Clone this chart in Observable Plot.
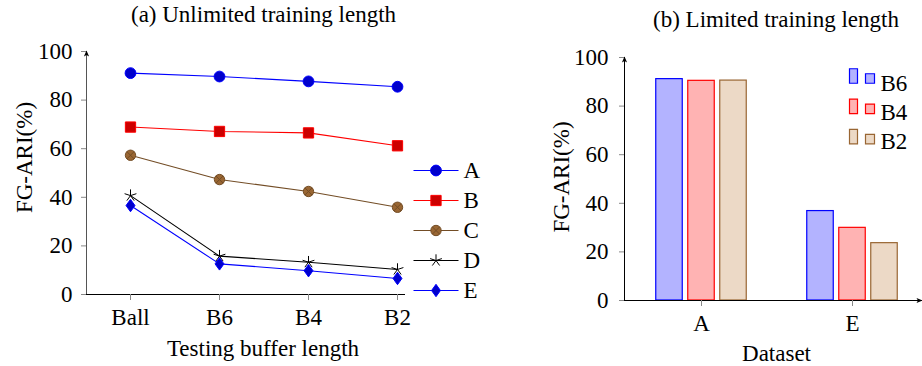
<!DOCTYPE html>
<html>
<head>
<meta charset="utf-8">
<script src="https://cdn.jsdelivr.net/npm/d3@7"></script>
<script src="https://cdn.jsdelivr.net/npm/@observablehq/plot@0.6"></script>
<style>
  html, body { margin: 0; padding: 0; background: white; }
  #wrap { position: relative; width: 922px; height: 366px; background: white; overflow: hidden; }
  #pa { position: absolute; left: 0; top: 0; }
  #pb { position: absolute; left: 490px; top: 0; }
  svg { overflow: visible; }
</style>
</head>
<body>
<div id="wrap"><div id="pa"></div><div id="pb"></div></div>
<script>
// ---------- data: (a) Unlimited training length ----------
const titleA = "(a) Unlimited training length";
const xLabelA = "Testing buffer length";
const yLabel = "FG-ARI(%)";
const bufferLabels = ["Ball", "B6", "B4", "B2"];
const seriesNames = ["A", "B", "C", "D", "E"];
const valuesA = [91.1, 89.7, 87.7, 85.5];
const valuesB = [68.9, 67.1, 66.5, 61.2];
const valuesC = [57.3, 47.3, 42.4, 35.9];
const valuesD = [40.7, 15.8, 13.3, 10.3];
const valuesE = [36.6, 12.6, 9.8, 6.6];
const yTicks = [0, 20, 40, 60, 80, 100];

// ---------- data: (b) Limited training length ----------
const titleB = "(b) Limited training length";
const xLabelB = "Dataset";
const datasets = ["A", "E"];
const barSeries = ["B6", "B4", "B2"];
const barB6 = [91.1, 36.8];
const barB4 = [90.4, 29.9];
const barB2 = [90.5, 23.6];

// ---------- build tables ----------
const lineValues = [valuesA, valuesB, valuesC, valuesD, valuesE];
const lineData = [];
seriesNames.forEach((s, i) => bufferLabels.forEach((b, j) => lineData.push({series: s, buffer: b, value: lineValues[i][j]})));
const barValues = [barB6, barB4, barB2];
const barData = [];
barSeries.forEach((s, i) => datasets.forEach((d, j) => barData.push({series: s, dataset: d, value: barValues[i][j]})));

const FONT = "Liberation Serif";
const FS = 23;

// ---------- custom symbols ----------
const otimes = {draw(c, size) {
  const r = Math.sqrt(size / Math.PI);
  c.moveTo(r, 0); c.arc(0, 0, r, 0, 2 * Math.PI);
  const d = r * Math.SQRT1_2;
  c.moveTo(-d, -d); c.lineTo(d, d); c.moveTo(-d, d); c.lineTo(d, -d);
}};
const pgfStar = {draw(c, size) {
  const r = Math.sqrt(size / Math.PI);
  for (let k = 0; k < 5; k++) {
    const a = -Math.PI / 2 + k * 2 * Math.PI / 5;
    c.moveTo(0, 0); c.lineTo(r * Math.cos(a), r * Math.sin(a));
  }
}};
const pgfDiamond = {draw(c, size) {
  const r = Math.sqrt(size / Math.PI);
  c.moveTo(0, -r); c.lineTo(0.72 * r, 0); c.lineTo(0, r); c.lineTo(-0.72 * r, 0); c.closePath();
}};
const hline = {draw(c) { c.moveTo(-22.5, 0); c.lineTo(22.5, 0); }};
const arrowUp = {draw(c) { c.moveTo(0, -1); c.lineTo(2.6, 5); c.lineTo(0, 3.6); c.lineTo(-2.6, 5); c.closePath(); }};
const arrowRight = {draw(c) { c.moveTo(0, 0); c.lineTo(-6, -2.6); c.lineTo(-4.6, 0); c.lineTo(-6, 2.6); c.closePath(); }};
const rectSym = (w, h) => ({draw(c) { c.rect(-w / 2, -h / 2, w, h); }});

const lineStyle = {
  A: {stroke: "#0000ff", fill: "#0000cc", symbol: "circle", r: 5.4},
  B: {stroke: "#ff0000", fill: "#cc0000", symbol: "square", r: 5.8},
  C: {stroke: "#734d26", fill: "#996633", symbol: otimes, r: 5.2},
  D: {stroke: "#000000", fill: "none", symbol: pgfStar, r: 6.2},
  E: {stroke: "#0000ff", fill: "#0000cc", symbol: pgfDiamond, r: 6.2}
};
const barStyle = {
  B6: {stroke: "#0000ff", fill: "#b3b3ff"},
  B4: {stroke: "#ff0000", fill: "#ffb3b3"},
  B2: {stroke: "#996633", fill: "#ecd9c6"}
};
const txt = {text: (d) => d, fontSize: FS, fill: "#000", lineAnchor: "middle"};

// ---------- chart (a) ----------
const marksA = [
  Plot.frame({anchor: "left", stroke: "#555"}),
  Plot.frame({anchor: "bottom", stroke: "#000"}),
  Plot.axisY({ticks: yTicks, tickSize: 5, tickPadding: 9, stroke: "#888", fill: "#000", fontSize: FS, label: null}),
  Plot.axisX({tickSize: 6, tickPadding: 8, stroke: "#888", fill: "#000", fontSize: FS, label: null}),
  Plot.dot([0], {frameAnchor: "top-left", symbol: arrowUp, fill: "#000", stroke: "none"})
];
seriesNames.forEach((s) => {
  const st = lineStyle[s];
  const data = lineData.filter((d) => d.series === s);
  marksA.push(Plot.line(data, {x: "buffer", y: "value", stroke: st.stroke, strokeWidth: 1.1}));
  marksA.push(Plot.dot(data, {x: "buffer", y: "value", symbol: st.symbol, r: st.r, fill: st.fill, stroke: st.stroke, strokeWidth: 1}));
});
seriesNames.forEach((s, i) => {
  const st = lineStyle[s];
  const dy = 119 + 30 * i;
  marksA.push(Plot.dot([s], {frameAnchor: "top-right", dx: 31.5, dy, symbol: hline, stroke: st.stroke, fill: "none", strokeWidth: 1.1}));
  marksA.push(Plot.dot([s], {frameAnchor: "top-right", dx: 31.5, dy, symbol: st.symbol, r: st.r, fill: st.fill, stroke: st.stroke, strokeWidth: 1}));
  marksA.push(Plot.text([s], {...txt, frameAnchor: "top-right", dx: 59, dy, textAnchor: "start"}));
});
marksA.push(Plot.text([titleA], {...txt, frameAnchor: "top", dx: 18, dy: -36.5, textAnchor: "middle"}));
marksA.push(Plot.text([xLabelA], {...txt, frameAnchor: "bottom", dx: 17.5, dy: 54, textAnchor: "middle"}));
marksA.push(Plot.text([yLabel], {...txt, frameAnchor: "left", dx: -61.8, dy: -15.5, rotate: -90, textAnchor: "middle"}));

const chartA = Plot.plot({
  width: 490, height: 366,
  marginLeft: 86, marginRight: 86, marginTop: 51, marginBottom: 72,
  style: {fontFamily: FONT, fontSize: FS + "px", background: "white", color: "black"},
  x: {type: "point", domain: bufferLabels, padding: 0, insetLeft: 44, insetRight: 7},
  y: {domain: [0, 100]},
  marks: marksA
});
document.getElementById("pa").append(chartA);

// ---------- chart (b) ----------
const marksB = [];
barSeries.forEach((s, i) => {
  const st = barStyle[s];
  marksB.push(Plot.barY(barData.filter((d) => d.series === s), {
    x: "dataset", y: "value", fill: st.fill, stroke: st.stroke, strokeWidth: 1.2,
    insetLeft: 32 * i + 2.75, insetRight: 32 * (2 - i) + 2.75
  }));
});
marksB.push(
  Plot.frame({anchor: "left", stroke: "#000"}),
  Plot.frame({anchor: "bottom", stroke: "#000"}),
  Plot.axisY({ticks: yTicks, tickSize: 5, tickPadding: 11, stroke: "#888", fill: "#000", fontSize: FS, label: null}),
  Plot.axisX({tickSize: 6, tickPadding: 8, stroke: "#888", fill: "#000", fontSize: FS, label: null}),
  Plot.dot([0], {frameAnchor: "top-left", symbol: arrowUp, fill: "#000", stroke: "none"}),
  Plot.dot([0], {frameAnchor: "bottom-right", symbol: arrowRight, fill: "#000", stroke: "none"})
);
barSeries.forEach((s, i) => {
  const st = barStyle[s];
  marksB.push(Plot.dot([s], {frameAnchor: "top-right", dx: -69, dy: 18.5 + 30.3 * i, symbol: rectSym(8, 14.5), fill: st.fill, stroke: st.stroke, strokeWidth: 1.2}));
  marksB.push(Plot.dot([s], {frameAnchor: "top-right", dx: -52.5, dy: 21 + 30.3 * i, symbol: rectSym(9, 9.5), fill: st.fill, stroke: st.stroke, strokeWidth: 1.2}));
  marksB.push(Plot.text([s], {...txt, frameAnchor: "top-right", dx: -42, dy: 26 + 29.3 * i, textAnchor: "start"}));
});
marksB.push(Plot.text([titleB], {...txt, frameAnchor: "top", dx: 2.5, dy: -37.8, textAnchor: "middle"}));
marksB.push(Plot.text([xLabelB], {...txt, frameAnchor: "bottom", dx: 3, dy: 53.5, textAnchor: "middle"}));
marksB.push(Plot.text([yLabel], {...txt, frameAnchor: "left", dx: -63.2, dy: -2, rotate: -90, textAnchor: "middle"}));

const chartB = Plot.plot({
  width: 432, height: 366,
  marginLeft: 134, marginRight: 0, marginTop: 57, marginBottom: 66,
  style: {fontFamily: FONT, fontSize: FS + "px", background: "white", color: "black"},
  x: {type: "band", domain: datasets, paddingInner: 0.367, paddingOuter: 0, insetLeft: 28, insetRight: 22},
  y: {domain: [0, 100]},
  marks: marksB
});
document.getElementById("pb").append(chartB);
</script>
</body>
</html>
